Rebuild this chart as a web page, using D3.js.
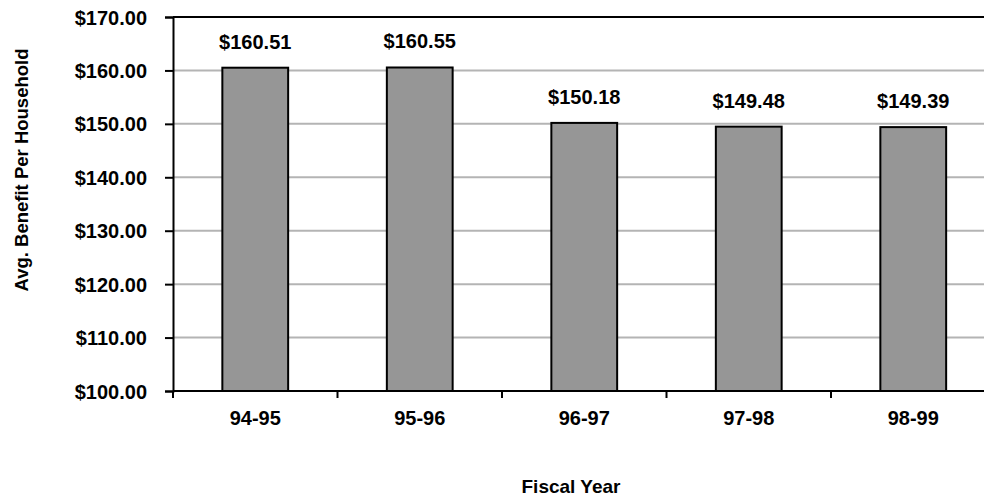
<!DOCTYPE html>
<html>
<head>
<meta charset="utf-8">
<script src="https://cdn.jsdelivr.net/npm/d3@7"></script>
<style>
  body { margin: 0; background: #fff; }
  text { font-family: "Liberation Sans", Arial, sans-serif; font-weight: bold; fill: #000; }
</style>
</head>
<body>
<div id="chart"></div>
<script>
// data
var years = ['94-95', '95-96', '96-97', '97-98', '98-99'];
var benefits = [160.51, 160.55, 150.18, 149.48, 149.39];
var yTicks = [100, 110, 120, 130, 140, 150, 160, 170];

var width = 984, height = 499;
var plotLeft = 173, plotRight = 995.5, plotTop = 17, plotBottom = 391;

var svg = d3.select('#chart').append('svg')
    .attr('width', width)
    .attr('height', height);

var x = d3.scaleBand()
    .domain(years)
    .range([plotLeft, plotRight])
    .padding(0);

var y = d3.scaleLinear()
    .domain([100, 170])
    .range([plotBottom, plotTop]);

var money = d3.format('$.2f');

// gridlines
svg.append('g')
    .selectAll('line')
    .data(yTicks.filter(function (d) { return d > 100 && d < 170; }))
    .enter().append('line')
    .attr('x1', plotLeft)
    .attr('x2', plotRight)
    .attr('y1', function (d) { return y(d); })
    .attr('y2', function (d) { return y(d); })
    .style('stroke', '#b4b4b4')
    .style('stroke-width', 2);

// top border
svg.append('line')
    .attr('x1', plotLeft).attr('x2', plotRight)
    .attr('y1', y(170)).attr('y2', y(170))
    .style('stroke', '#000')
    .style('stroke-width', 2);

// bars
var barW = x.bandwidth() * 0.4;
svg.append('g')
    .selectAll('rect')
    .data(years)
    .enter().append('rect')
    .attr('x', function (d) { return x(d) + (x.bandwidth() - barW) / 2; })
    .attr('y', function (d, i) { return y(benefits[i]); })
    .attr('width', barW)
    .attr('height', function (d, i) { return plotBottom - y(benefits[i]); })
    .style('fill', '#969696')
    .style('stroke', '#000')
    .style('stroke-width', 2);

// value labels
svg.append('g')
    .selectAll('text')
    .data(years)
    .enter().append('text')
    .attr('x', function (d) { return x(d) + x.bandwidth() / 2; })
    .attr('y', function (d, i) { return y(benefits[i]) - 19; })
    .attr('text-anchor', 'middle')
    .style('font-size', '20px')
    .text(function (d, i) { return money(benefits[i]); });

// y axis
var yAxis = svg.append('g')
    .attr('transform', 'translate(' + plotLeft + ',0)')
    .call(d3.axisLeft(y).tickValues(yTicks).tickFormat(money).tickSize(8).tickPadding(18));
yAxis.select('.domain').style('stroke', '#000').style('stroke-width', 2);
yAxis.selectAll('.tick line').style('stroke', '#000').style('stroke-width', 2);
yAxis.selectAll('.tick text')
    .style('font-size', '20px')
    .style('font-family', '"Liberation Sans", Arial, sans-serif')
    .style('font-weight', 'bold')
    .attr('dy', '0.35em');

// x axis line and boundary ticks
svg.append('line')
    .attr('x1', plotLeft).attr('x2', plotRight)
    .attr('y1', plotBottom).attr('y2', plotBottom)
    .style('stroke', '#000')
    .style('stroke-width', 2);

var bounds = years.map(function (d) { return x(d); }).concat([plotRight]);
svg.append('g')
    .selectAll('line')
    .data(bounds)
    .enter().append('line')
    .attr('x1', function (d) { return d; })
    .attr('x2', function (d) { return d; })
    .attr('y1', plotBottom)
    .attr('y2', plotBottom + 7)
    .style('stroke', '#000')
    .style('stroke-width', 2);

// category labels
svg.append('g')
    .selectAll('text')
    .data(years)
    .enter().append('text')
    .attr('x', function (d) { return x(d) + x.bandwidth() / 2; })
    .attr('y', 425)
    .attr('text-anchor', 'middle')
    .style('font-size', '20px')
    .text(function (d) { return d; });

// axis titles
svg.append('text')
    .attr('transform', 'translate(28,170) rotate(-90)')
    .attr('text-anchor', 'middle')
    .style('font-size', '18.5px')
    .text('Avg. Benefit Per Household');

svg.append('text')
    .attr('x', 571)
    .attr('y', 493)
    .attr('text-anchor', 'middle')
    .style('font-size', '19px')
    .text('Fiscal Year');
</script>
</body>
</html>
